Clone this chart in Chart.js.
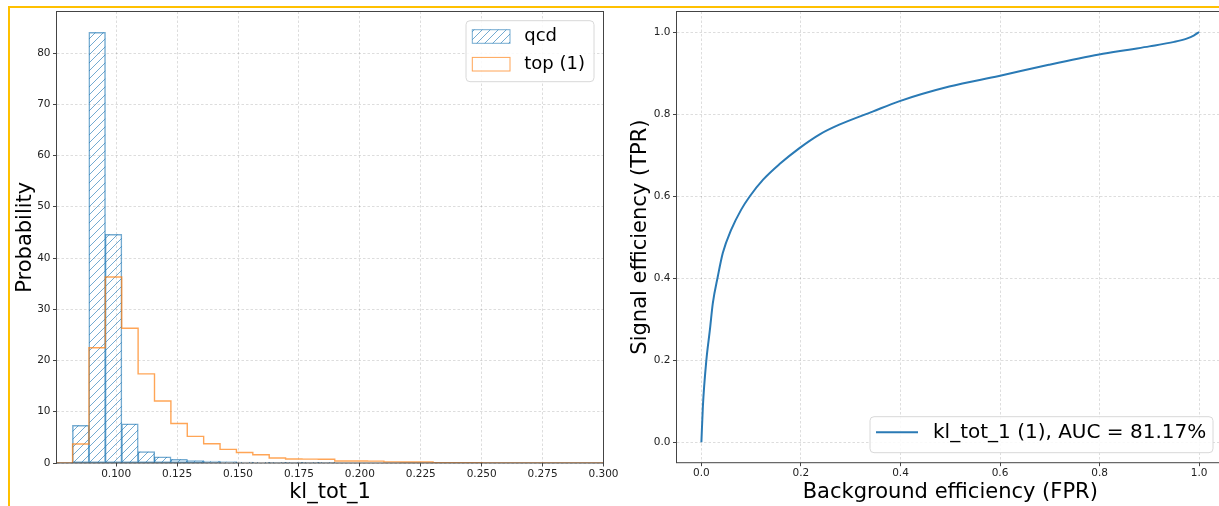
<!DOCTYPE html>
<html>
<head>
<meta charset="utf-8">
<script src="https://cdn.jsdelivr.net/npm/chart.js@4.4.1/dist/chart.umd.min.js"></script>
<style>
  html, body { margin: 0; padding: 0; background: #fff; width: 1219px; height: 506px; overflow: hidden; }
  #frame { position: absolute; left: 8px; top: 6px; right: 0; bottom: 0; border-top: 2px solid #ffc000; border-left: 2px solid #ffc000; }
  canvas { position: absolute; top: 0; }
  #hist { left: 0; }
  #roc { left: 615px; }
</style>
</head>
<body>
<div id="frame"></div>
<canvas id="hist" width="625" height="506"></canvas>
<canvas id="roc" width="615" height="506"></canvas>
<script>
// histogram of kl_tot_1 (density), 34 equal bins
const binEdges = [
  0.07537, 0.082095, 0.08882, 0.095545, 0.10227, 0.108995, 0.11572, 0.122445,
  0.12917, 0.135895, 0.14262, 0.149345, 0.15607, 0.162795, 0.16952, 0.176245,
  0.18297, 0.189695, 0.19642, 0.203145, 0.20987, 0.216595, 0.22332, 0.230045,
  0.23677, 0.243495, 0.25022, 0.256945, 0.26367, 0.270395, 0.27712, 0.283845,
  0.29057, 0.297295, 0.30402
];
const qcdDensity = [
  0, 7.3, 84.0, 44.6, 7.6, 2.2, 1.15, 0.7, 0.45, 0.32, 0.22, 0.14, 0.09, 0.05, 0.03, 0.02, 0.01,
  0, 0, 0, 0, 0, 0, 0, 0, 0, 0, 0, 0, 0, 0, 0, 0, 0
];
const topDensity = [
  0, 3.7, 22.5, 36.3, 26.3, 17.4, 12.1, 7.7, 5.2, 3.75, 2.65, 2.05, 1.6, 0.97, 0.78, 0.75, 0.72,
  0.4, 0.38, 0.37, 0.22, 0.2, 0.2, 0.06, 0.05, 0.04, 0.03, 0.03, 0.02, 0.02, 0.02, 0.01, 0.01, 0.01
];
const histTicks = [0.1, 0.125, 0.15, 0.175, 0.2, 0.225, 0.25, 0.275, 0.3];
const probTicks = [0, 10, 20, 30, 40, 50, 60, 70, 80];

// ROC curve
const fpr = [0, 0.003, 0.01, 0.017, 0.023, 0.033, 0.043, 0.06, 0.08, 0.097, 0.124, 0.157, 0.197,
  0.237, 0.277, 0.344, 0.397, 0.498, 0.598, 0.698, 0.799, 0.859, 0.9, 0.95, 0.975, 0.99, 1.0];
const tpr = [0, 0.087, 0.2, 0.273, 0.339, 0.404, 0.461, 0.518, 0.567, 0.599, 0.64, 0.678, 0.717,
  0.75, 0.774, 0.806, 0.831, 0.867, 0.893, 0.92, 0.945, 0.957, 0.965, 0.976, 0.984, 0.992, 1.0];
const effTicks = [0, 0.2, 0.4, 0.6, 0.8, 1.0];

const FONT = "'DejaVu Sans', sans-serif";
const BLUE = 'rgba(31,119,180,0.62)';
const BLUE_EDGE = 'rgba(31,119,180,0.62)';
const ORANGE = 'rgba(255,127,14,0.7)';

function hatch(color) {
  const c = document.createElement('canvas');
  c.width = c.height = 8;
  const g = c.getContext('2d');
  g.strokeStyle = color;
  g.lineWidth = 1;
  g.beginPath();
  g.moveTo(0, 8); g.lineTo(8, 0);
  g.moveTo(-4, 4); g.lineTo(4, -4);
  g.moveTo(4, 12); g.lineTo(12, 4);
  g.stroke();
  return g.createPattern(c, 'repeat');
}
const hatchFill = hatch(BLUE);

const grid = {
  color: 'rgba(0,0,0,0.17)',
  lineWidth: 0.8,
  tickColor: '#444',
  tickLength: 3.5,
  tickWidth: 1,
  tickBorderDash: []
};
const border = { display: false, dash: [2.5, 2] };
const tickFont = { family: FONT, size: 10.5 };

// box around the plotting area
const frame = {
  id: 'frame',
  afterDatasetsDraw(chart) {
    const { ctx, chartArea: a } = chart;
    ctx.save();
    ctx.strokeStyle = '#444';
    ctx.lineWidth = 1;
    ctx.strokeRect(a.left, a.top, a.right - a.left, a.bottom - a.top);
    ctx.restore();
  }
};

// matplotlib-like legend box inside the axes
const boxLegend = {
  id: 'boxLegend',
  afterDraw(chart, args, o) {
    const { ctx, chartArea: a } = chart;
    const x = a.right - o.right - o.width;
    const y = o.top != null ? a.top + o.top : a.bottom - o.bottom - o.height;
    ctx.save();
    ctx.beginPath();
    ctx.roundRect(x, y, o.width, o.height, 4);
    ctx.fillStyle = 'rgba(255,255,255,0.85)';
    ctx.fill();
    ctx.strokeStyle = '#d8d8d8';
    ctx.lineWidth = 1;
    ctx.stroke();
    ctx.font = o.fontSize + 'px ' + FONT;
    ctx.textBaseline = 'middle';
    chart.data.datasets.forEach((ds, i) => {
      const cy = y + o.firstRow + i * o.rowGap;
      const sx = x + o.swatchLeft;
      if (ds.swatch === 'line') {
        ctx.strokeStyle = ds.borderColor;
        ctx.lineWidth = ds.borderWidth;
        ctx.beginPath();
        ctx.moveTo(sx, cy);
        ctx.lineTo(sx + o.swatchWidth, cy);
        ctx.stroke();
      } else {
        const h = o.swatchHeight;
        if (ds.swatch === 'hatch') {
          ctx.fillStyle = ds.backgroundColor;
          ctx.fillRect(sx, cy - h / 2, o.swatchWidth, h);
        }
        ctx.strokeStyle = ds.borderColor;
        ctx.lineWidth = 1;
        ctx.strokeRect(sx, cy - h / 2, o.swatchWidth, h);
      }
      ctx.fillStyle = '#000';
      ctx.fillText(ds.label, x + o.textLeft, cy);
    });
    ctx.restore();
  }
};

const histBars = binEdges.slice(0, -1).map((e, i) => ({ x: (e + binEdges[i + 1]) / 2, y: qcdDensity[i] }));
const histStep = binEdges.map((e, i) => ({ x: e, y: topDensity[Math.min(i, topDensity.length - 1)] }));

new Chart(document.getElementById('hist'), {
  type: 'bar',
  data: {
    datasets: [
      {
        label: 'qcd',
        swatch: 'hatch',
        data: histBars,
        backgroundColor: hatchFill,
        borderColor: BLUE_EDGE,
        borderWidth: 0.5,
        borderSkipped: false,
        inflateAmount: 0.5,
        barPercentage: 1,
        categoryPercentage: 1,
        order: 1
      },
      {
        type: 'line',
        label: 'top (1)',
        swatch: 'outline',
        data: histStep,
        stepped: true,
        borderColor: ORANGE,
        borderWidth: 1.4,
        pointRadius: 0,
        fill: false,
        order: 0
      }
    ]
  },
  options: {
    responsive: false,
    animation: false,
    devicePixelRatio: 1,
    events: [],
    layout: { padding: { top: 11.5, left: 0, right: 21.5, bottom: 0 } },
    plugins: {
      legend: { display: false },
      tooltip: { enabled: false },
      boxLegend: {
        right: 9.5, top: 9.2, width: 128, height: 61,
        firstRow: 15.8, rowGap: 27.7, fontSize: 18,
        swatchLeft: 6.3, swatchWidth: 37.7, swatchHeight: 13.6, textLeft: 58.3
      }
    },
    scales: {
      x: {
        type: 'linear',
        offset: false,
        min: 0.0755,
        max: 0.3,
        grid: { ...grid, offset: false },
        border,
        afterBuildTicks: s => { s.ticks = histTicks.map(v => ({ value: v })); },
        afterFit: s => { s.height = 43; s.paddingLeft = 0; s.paddingRight = 0; },
        ticks: { font: tickFont, color: '#222', padding: 1.2, maxRotation: 0, autoSkip: false,
          callback: v => v.toFixed(3) },
        title: { display: true, text: 'kl_tot_1', color: '#000', font: { family: FONT, size: 21 },
          padding: { top: 0, bottom: 0.6 } }
      },
      y: {
        min: 0,
        max: 88.1,
        grid,
        border,
        afterBuildTicks: s => { s.ticks = probTicks.map(v => ({ value: v })); },
        afterFit: s => { s.width = 56.5; },
        ticks: { font: tickFont, color: '#222', padding: 2.5, callback: v => String(v) },
        title: { display: true, text: 'Probability', color: '#000', font: { family: FONT, size: 21 },
          padding: { top: 13, bottom: 0 } }
      }
    }
  },
  plugins: [frame, boxLegend]
});

new Chart(document.getElementById('roc'), {
  type: 'line',
  data: {
    datasets: [
      {
        label: 'kl_tot_1 (1), AUC = 81.17%',
        swatch: 'line',
        data: fpr.map((x, i) => ({ x, y: tpr[i] })),
        borderColor: '#2a7ab5',
        borderWidth: 2,
        pointRadius: 0,
        cubicInterpolationMode: 'monotone',
        fill: false
      }
    ]
  },
  options: {
    responsive: false,
    animation: false,
    devicePixelRatio: 1,
    events: [],
    layout: { padding: { top: 11.5, left: 0, right: 6, bottom: 0 } },
    plugins: {
      legend: { display: false },
      tooltip: { enabled: false },
      boxLegend: {
        right: 11, bottom: 10, width: 343, height: 36,
        firstRow: 15.6, rowGap: 0, fontSize: 20,
        swatchLeft: 6, swatchWidth: 42, swatchHeight: 0, textLeft: 63
      }
    },
    scales: {
      x: {
        type: 'linear',
        min: -0.05,
        max: 1.05,
        grid,
        border,
        afterBuildTicks: s => { s.ticks = effTicks.map(v => ({ value: v })); },
        afterFit: s => { s.height = 43.3; s.paddingLeft = 0; s.paddingRight = 0; },
        ticks: { font: tickFont, color: '#222', padding: 1.2, maxRotation: 0, autoSkip: false,
          callback: v => v.toFixed(1) },
        title: { display: true, text: 'Background efficiency (FPR)', color: '#000',
          font: { family: FONT, size: 21 }, padding: { top: 0, bottom: 0.6 } }
      },
      y: {
        type: 'linear',
        min: -0.05,
        max: 1.05,
        grid,
        border,
        afterBuildTicks: s => { s.ticks = effTicks.map(v => ({ value: v })); },
        afterFit: s => { s.width = 61.5; },
        ticks: { font: tickFont, color: '#222', padding: 2.5, callback: v => v.toFixed(1) },
        title: { display: true, text: 'Signal efficiency (TPR)', color: '#000',
          font: { family: FONT, size: 21 }, padding: { top: 13, bottom: 0 } }
      }
    }
  },
  plugins: [frame, boxLegend]
});
</script>
</body>
</html>
